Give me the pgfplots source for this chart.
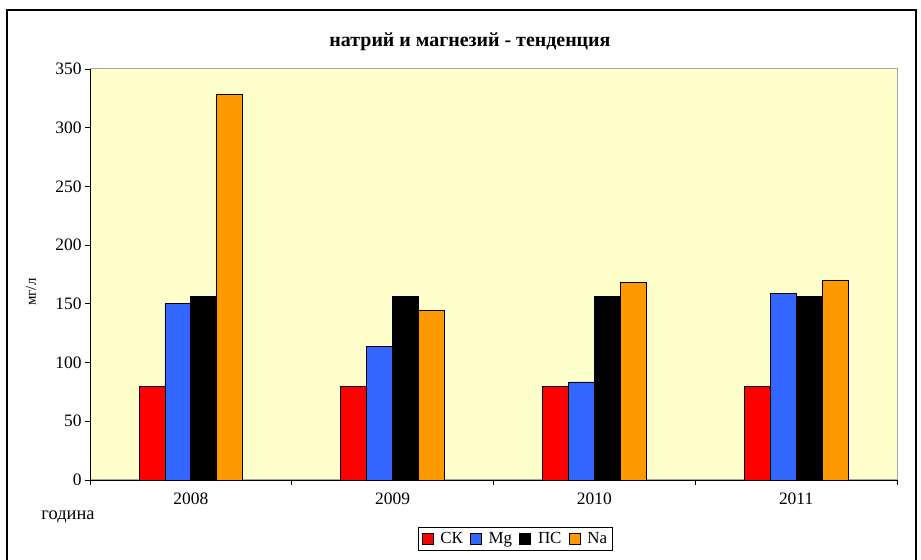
\documentclass[border=0pt]{standalone}
\usepackage{fontspec}
\setmainfont{Liberation Serif}
\usepackage{pgfplots}
\pgfplotsset{compat=1.18}
\definecolor{bgy}{HTML}{FFFFCC}
\definecolor{cred}{HTML}{FF0000}
\definecolor{cblue}{HTML}{3366FF}
\definecolor{corange}{HTML}{FF9900}
\begin{document}
\begin{tikzpicture}[x=1bp,y=1bp]
\useasboundingbox (0,0) rectangle (921,560);
\draw[line width=2bp] (7,0) -- (7,550) -- (916,550) -- (916,0);
\node[font=\bfseries\fontsize{20}{22}\selectfont] at (470,518) {натрий и магнезий - тенденция};
\node[rotate=90,font=\fontsize{15}{17}\selectfont] at (31,268) {мг/л};
\node[font=\fontsize{18.5}{20}\selectfont] at (68,43) {година};
\begin{axis}[
  at={(90bp,80bp)}, anchor=south west,
  scale only axis, width=807bp, height=411bp,
  xmin=-0.5, xmax=3.5, ymin=0, ymax=350,
  ytick={0,50,...,350},
  xtick={0,1,2,3}, xticklabels={2008,2009,2010,2011},
  minor xtick={-0.5,0.5,1.5,2.5,3.5},
  major x tick style={draw=none},
  tick align=outside,
  major tick length=5bp, minor tick length=5bp,
  axis x line*=bottom, axis y line*=left,
  axis line style={black, line width=0.8pt},
  x axis line style={-}, y axis line style={-},
  tick style={black, line width=0.8pt},
  axis background/.style={fill=bgy, draw=gray!70, line width=1pt},
  /pgf/number format/assume math mode=true,
  ticklabel style={font=\fontsize{17.5}{19}\selectfont},
  xticklabel style={yshift=-4bp},
  ybar=0pt, bar width=0.1285,
  every axis plot/.append style={draw=black, line width=0.8pt},
  legend columns=4,
  legend style={at={(0.527,-0.114)}, anchor=north, draw=black, line width=0.6pt,
    font=\fontsize{17}{19}\selectfont, inner sep=3pt,
    /tikz/every even column/.append style={column sep=5bp},
    /tikz/every odd column/.append style={column sep=5bp}},
  legend image code/.code={\draw[#1] (0bp,-5.5bp) rectangle (11bp,5.5bp);},
]
\addplot[fill=cred] coordinates {(0,80) (1,80) (2,80) (3,80)};
\addplot[fill=cblue] coordinates {(0,150) (1,114) (2,83.5) (3,159)};
\addplot[fill=black] coordinates {(0,156.5) (1,156.5) (2,156.5) (3,156.5)};
\addplot[fill=corange] coordinates {(0,328) (1,144) (2,168.5) (3,170)};
\legend{СК,Mg,ПС,Na}
\end{axis}
\end{tikzpicture}
\end{document}
